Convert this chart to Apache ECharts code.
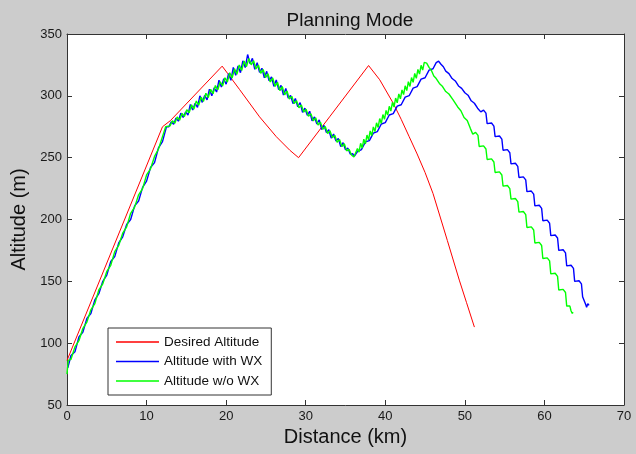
<!DOCTYPE html>
<html>
<head>
<meta charset="utf-8">
<script src="https://cdn.jsdelivr.net/npm/echarts@6/dist/echarts.min.js"></script>
<style>
html,body{margin:0;padding:0;background:#fff;}
#chart{width:636px;height:454px;}
</style>
</head>
<body>
<div id="chart"></div>
<script>
// ---- data (distance km, altitude m) ----
const seriesNames = ['Desired Altitude', 'Altitude with WX', 'Altitude w/o WX'];

const desiredAltitude = [
  [0,86],[12,275],[13,280],[19.5,324],[20.2,318],[21.7,305],[24.2,283],[26.3,267],[28,256],[29.1,250],
  [33,283],[37.9,324.5],[39.3,313],[41,294],[42,281],[43,267],[44,253],[45,238],[46,221],[46.9,202],[47.8,183],
  [49.3,151],[50.2,133],[51.2,113]
];

const altitudeWithWX = [
  [0.1,80],[0.5,90],[1,93],[1.5,105],[2,109],[2.5,120],[3,124],[3.5,135],[4,140],[4.5,150],[5,155],[5.5,166],[6,170],
  [6.5,181],[7,186],[7.5,196],[8,200],[8.5,211],[9,215],[9.5,226],[10,231],[10.5,242],[11,246],[11.5,258],[12,263],[12.5,275],
  [12.8,275],[13.1,279],[13.4,277],[13.7,282],[14,279.5],[14.3,286],[14.6,282.5],[14.9,287],[15.2,284.5],[15.5,293],
  [15.8,288.5],[16.1,294],[16.4,290.6],[16.7,300],[17,294.7],[17.3,300.3],[17.6,296.8],[17.9,305.4],[18.2,300],[18.5,306.5],
  [18.8,303.1],[19.1,312.7],[19.4,307.2],[19.7,313.8],[20,309.4],[20.3,318],[20.6,312.5],[20.9,323],[21.2,316.6],[21.5,324.2],
  [21.8,318.7],[22.1,328.3],[22.4,322.9],[22.7,333.4],[23,326],[23.3,330.3],[23.6,321.5],[23.9,326.8],[24.2,319],[24.5,322.3],
  [24.8,314.6],[25.1,319.8],[25.4,312.1],[25.7,315.3],[26,307.6],[26.3,312.9],[26.6,305.1],[26.9,308.4],[27.2,300.6],[27.5,305.9],
  [27.8,298.2],[28.1,300.4],[28.4,293.7],[28.7,297.9],[29,291.2],[29.3,294.5],[29.6,286.7],[29.9,290],[30.2,284.2],[30.5,287.5],
  [30.8,279.8],[31.1,283],[31.4,277.3],[31.7,280.5],[32,272.8],[32.3,276.1],[32.6,270.3],[32.9,272.6],[33.2,265.8],[33.5,269.1],
  [33.8,263.4],[34.1,265.6],[34.4,258.9],[34.7,262.1],[35,256.4],[35.3,257.7],[35.6,252.9],[35.9,253.2],[36.1,251],
  [36.5,254.9],[37,256.5],[37.5,262.7],[38,263.8],[38.5,269.9],[39,271.1],[39.5,277.2],[40,278.3],[40.5,284.5],[41,285.6],
  [41.5,291.7],[42,292.8],[42.5,299],[43,300.1],[43.5,306.2],[44,307.4],[44.5,313.5],[45,314.6],[45.5,320.8],[46,321.9],
  [46.4,326.8],[46.7,328],
  [47,325.5],[47.3,323.5],[47.6,320],[48,318],[48.4,314],[48.8,312],[49.2,308],[49.6,306],[50,302.5],[50.4,300.5],
  [50.8,296],[51.2,294],[51.6,290],
  [52,287],[52.35,288.5],[52.65,286],[52.8,277.5],
  [53,276.5],[53.35,278],[53.65,275.5],[53.8,267],
  [54,266],[54.35,267.5],[54.65,265],[54.8,256],
  [55,255],[55.35,256.5],[55.65,254],[55.8,245],
  [56,244],[56.35,245.5],[56.65,243],[56.8,234],
  [57,233],[57.35,234.5],[57.65,232],[57.8,222.5],
  [58,221.5],[58.35,223],[58.65,220.5],[58.8,211],
  [59,210],[59.35,211.5],[59.65,209],[59.8,199],
  [60,198],[60.35,199.5],[60.65,197],[60.8,187],
  [61,186],[61.35,187.5],[61.65,185],[61.8,175],
  [62,174],[62.35,175.5],[62.65,173],[62.8,162.5],
  [63,161.5],[63.35,163],[63.65,160.5],[63.8,150],
  [64,149],[64.35,150.5],[64.65,148],[64.8,137.5],
  [65,136.5],[65.2,131],[65.3,129],[65.45,132],[65.6,130.5]
];

const altitudeWithoutWX = [
  [0,75],[0.15,86],[0.5,87],[1,97],[1.5,102],[2,112],[2.5,117],[3,127],[3.5,132],[4,143],[4.5,148],[5,158],[5.5,163],
  [6,174],[6.5,179],[7,189],[7.5,194],[8,205],[8.5,210],[9,220],[9.5,225],[10,236],[10.5,241],[11,251],[11.5,257],[12,267],[12.4,275],
  [12.65,276.6],[12.95,275.7],[13.25,279.8],[13.55,277.8],[13.85,282.9],[14.15,280.3],[14.45,285.8],[14.75,283.3],[15.05,288.8],
  [15.35,286.3],[15.65,292.8],[15.95,289.3],[16.25,295.8],[16.55,292.4],[16.85,298.9],[17.15,295.5],[17.45,302.1],[17.75,298.6],
  [18.05,305.2],[18.35,301.7],[18.65,308.3],[18.95,304.9],[19.25,311.4],[19.55,308],[19.85,314.6],[20.15,311.2],[20.45,318.7],
  [20.75,314.3],[21.05,321.9],[21.35,317.4],[21.65,325],[21.95,320.5],[22.25,328.1],[22.55,323.6],[22.85,330.2],[23.15,325.1],
  [23.45,328.4],[23.75,321.7],[24.05,324.9],[24.35,318.2],[24.65,321.4],[24.95,314.7],[25.25,318],[25.55,311.2],[25.85,314.5],
  [26.15,307.7],[26.45,311],[26.75,304.3],[27.05,307.5],[27.35,300.8],[27.65,304],[27.95,297.3],[28.25,299.6],[28.55,293.8],
  [28.85,296.1],[29.15,290.3],[29.45,292.6],[29.75,286.9],[30.05,289.1],[30.35,283.4],[30.65,285.6],[30.95,279.9],[31.25,282.2],
  [31.55,276.4],[31.85,278.7],[32.15,272.9],[32.45,275.2],[32.75,269.5],[33.05,271.7],[33.35,266],[33.65,268.2],[33.95,262.5],
  [34.25,264.8],[34.55,259],[34.85,261.3],[35.15,255.5],[35.45,256.8],[35.75,252.1],[36.05,250.5],
  [36.3,251.2],[36.5,257.3],[36.7,254.5],[36.9,261.6],[37.1,257.8],[37.3,265],[37.5,261.1],[37.7,268.3],[37.9,264.4],[38.1,271.6],
  [38.3,267.8],[38.5,274.9],[38.7,271.1],[38.9,278.2],[39.1,274.4],[39.3,281.6],[39.5,277.7],[39.7,284.9],[39.9,281],[40.1,288.2],
  [40.3,284.4],[40.5,291.5],[40.7,287.7],[40.9,294.8],[41.1,291],[41.3,298.2],[41.5,294.3],[41.7,301.5],[41.9,297.6],[42.1,304.8],
  [42.3,301],[42.5,308.1],[42.7,304.3],[42.9,311.4],[43.1,307.6],[43.3,314.8],[43.5,310.9],[43.7,318.1],[43.9,314.2],[44.1,321.4],
  [44.3,317.6],[44.5,324.7],[44.7,320.9],[44.9,327],[45.2,326.5],
  [45.5,323],[45.8,320.5],[46.1,316],[46.4,314],[46.8,310],[47.2,307.5],[47.6,303.5],[48,301.5],[48.5,297],[49.1,291],
  [49.5,288],[49.9,282.5],[50.3,280],[50.7,273.5],
  [51,269],[51.35,270.5],[51.65,268],[51.8,259],
  [52,258],[52.35,259.5],[52.65,257],[52.8,248.5],
  [53,247.5],[53.35,249],[53.65,246.5],[53.8,238],
  [54,237],[54.35,238.5],[54.65,236],[54.8,227],
  [55,226],[55.35,227.5],[55.65,225],[55.8,216.5],
  [56,215.5],[56.35,217],[56.65,214.5],[56.8,206],
  [57,205],[57.35,206.5],[57.65,204],[57.8,193.5],
  [58,192.5],[58.35,194],[58.65,191.5],[58.8,181],
  [59,180],[59.35,181.5],[59.65,179],[59.8,168.5],
  [60,167.5],[60.35,169],[60.65,166.5],[60.8,156],
  [61,155],[61.35,156.5],[61.65,154],[61.8,143],
  [62,142],[62.35,143.5],[62.65,141],[62.8,130],
  [63,129],[63.2,130],[63.35,126],[63.5,124],[63.6,125]
];

const xRange = {min: 0, max: 70, interval: 10};
const yRange = {min: 50, max: 350, interval: 50};

const FONT = "'Liberation Sans', Arial, Helvetica, sans-serif";
const AXIS_COLOR = '#333';

function xAxisCfg(pos, main) {
  return {
    type: 'value', position: pos, min: xRange.min, max: xRange.max, interval: xRange.interval,
    name: main ? 'Distance (km)' : '', nameLocation: 'middle', nameGap: 22,
    nameTextStyle: {fontSize: 20, color: '#111', fontFamily: FONT},
    axisLine: {show: true, onZero: false, lineStyle: {color: AXIS_COLOR, width: 1}},
    axisTick: {show: true, inside: true, length: 5, lineStyle: {color: AXIS_COLOR}},
    axisLabel: {show: main, fontSize: 13, color: '#1a1a1a', margin: 5, fontFamily: FONT},
    splitLine: {show: false}
  };
}
function yAxisCfg(pos, main) {
  return {
    type: 'value', position: pos, min: yRange.min, max: yRange.max, interval: yRange.interval,
    name: main ? 'Altitude (m)' : '', nameLocation: 'middle', nameGap: 36,
    nameTextStyle: {fontSize: 20, color: '#111', fontFamily: FONT},
    axisLine: {show: true, onZero: false, lineStyle: {color: AXIS_COLOR, width: 1}},
    axisTick: {show: true, inside: true, length: 5, lineStyle: {color: AXIS_COLOR}},
    axisLabel: {show: main, fontSize: 13, color: '#1a1a1a', margin: 5, fontFamily: FONT},
    splitLine: {show: false}
  };
}

const chart = echarts.init(document.getElementById('chart'), null, {renderer: 'canvas'});
chart.setOption({
  animation: false,
  backgroundColor: '#cccccc',
  title: {
    text: 'Planning Mode', left: 345, top: 6, textAlign: 'center',
    textStyle: {fontSize: 19, fontWeight: 'normal', color: '#111', fontFamily: FONT}
  },
  grid: {left: 67, right: 12, top: 34, bottom: 49, show: true, backgroundColor: '#ffffff', borderWidth: 0},
  xAxis: [xAxisCfg('bottom', true), xAxisCfg('top', false)],
  yAxis: [yAxisCfg('left', true), yAxisCfg('right', false)],
  legend: {
    orient: 'vertical', left: 108, top: 328,
    backgroundColor: '#ffffff', borderColor: '#333', borderWidth: 1, borderRadius: 0,
    padding: [7, 9, 7, 8], itemGap: 5.5, itemWidth: 43, itemHeight: 1.5, icon: 'rect',
    textStyle: {fontSize: 13.5, color: '#111', fontFamily: FONT},
    data: seriesNames
  },
  series: [
    {name: seriesNames[0], type: 'line', data: desiredAltitude, symbol: 'none', showSymbol: false,
     lineStyle: {color: '#ff0000', width: 1}, itemStyle: {color: '#ff0000'}},
    {name: seriesNames[1], type: 'line', data: altitudeWithWX, symbol: 'none', showSymbol: false,
     lineStyle: {color: '#0000ff', width: 1.4}, itemStyle: {color: '#0000ff'}},
    {name: seriesNames[2], type: 'line', data: altitudeWithoutWX, symbol: 'none', showSymbol: false,
     lineStyle: {color: '#00ff00', width: 1.4}, itemStyle: {color: '#00ff00'}}
  ]
});
</script>
</body>
</html>
